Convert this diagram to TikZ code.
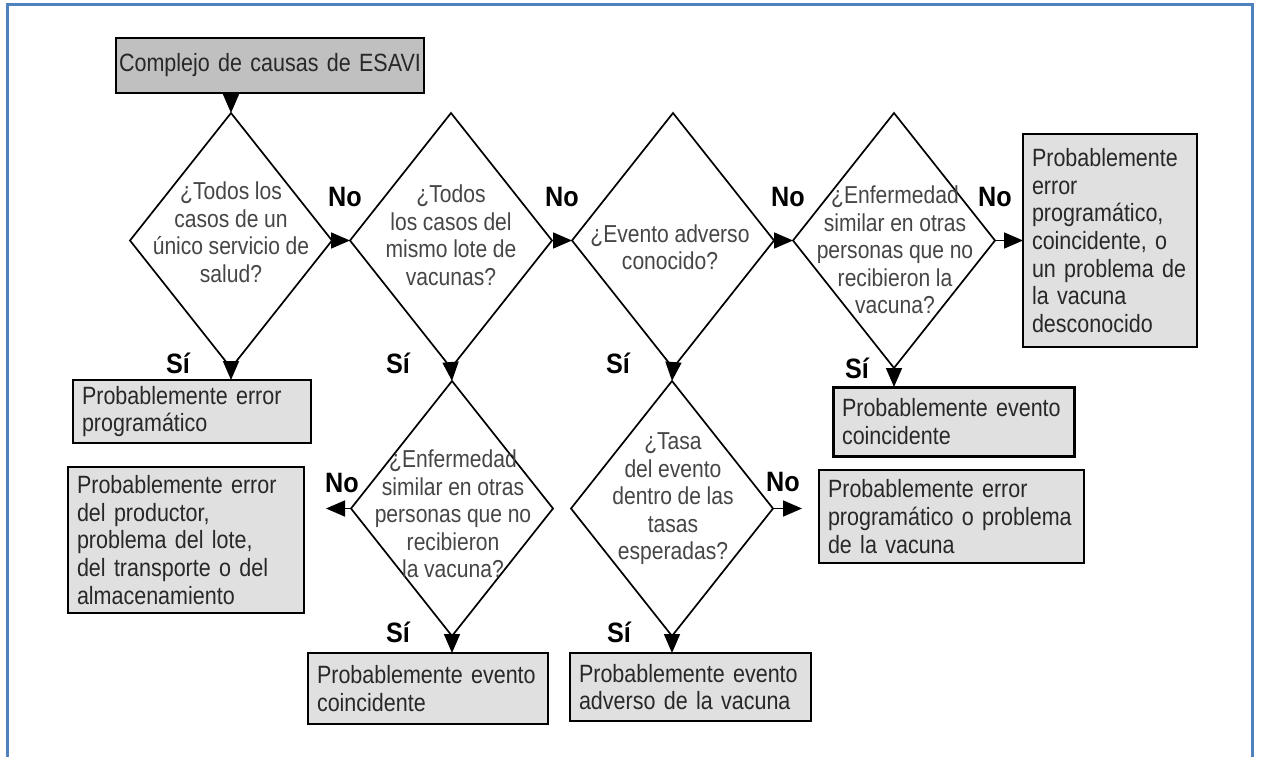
\documentclass[tikz,border=0pt]{standalone}
\usepackage{fontspec}
\setmainfont{Liberation Sans}[FakeStretch=0.86]
\newfontfamily\lblfont{Liberation Sans}[FakeStretch=0.9]
\usetikzlibrary{shapes.geometric,arrows.meta}
\definecolor{framec}{RGB}{79,129,189}
\definecolor{boxfill}{RGB}{224,224,224}
\definecolor{startfill}{RGB}{192,192,192}
\definecolor{boxtext}{RGB}{40,40,40}
\definecolor{dtextc}{RGB}{70,70,70}
\newcommand\myboxfont{\fontsize{25}{27.7}\selectfont\fontdimen2\font=5.8pt\relax}
\newcommand\mydiafont{\fontsize{24.5}{27.5}\selectfont\fontdimen2\font=5.6pt\relax}
\tikzset{bigtip/.tip={Triangle[width=16pt,length=19pt]}}
\begin{document}
\begin{tikzpicture}[x=1pt,y=-1pt,
  dia/.style={draw, shape=diamond, minimum width=202pt, minimum height=255pt, inner sep=0pt, outer sep=0pt, line width=1.7pt},
  dtext/.style={align=center, text=dtextc, font=\mydiafont, inner sep=0pt},
  box/.style={draw, fill=boxfill, line width=1.6pt, align=left, inner xsep=9pt, inner ysep=0pt, outer sep=0pt, font=\myboxfont, text=boxtext},
  lbl/.style={font=\lblfont\bfseries\fontsize{28}{28}\selectfont, inner sep=0pt},
  arr/.style={line width=1.7pt, -bigtip}
]
\useasboundingbox (0,0) rectangle (1261,757);
\clip (0,0) rectangle (1261,757);
\fill[white] (0,0) rectangle (1261,757);
\draw[framec, line width=3pt] (7,790) -- (7,5) -- (1252,5) -- (1252,790);

% start box
\node[box, fill=startfill, inner xsep=2pt, align=center, text width=304pt, minimum height=55pt] (b0) at (270,65.5) {Complejo de causas de ESAVI};

% diamonds
\node[dia] (d1) at (231,240.5) {};
\node[dia] (d2) at (451,240.5) {};
\node[dia] (d3) at (673,240.5) {};
\node[dia] (d4) at (894,240.5) {};
\node[dia] (d5) at (452,508.5) {};
\node[dia] (d6) at (672,508.5) {};

\node[dtext] (t1) at (231,232) {¿Todos los\\casos de un\\único servicio de\\salud?};
\node[dtext] (t2) at (451,235) {¿Todos\\los casos del\\mismo lote de\\vacunas?};
\node[dtext] (t3) at (670,247) {¿Evento adverso\\conocido?};
\node[dtext] (t4) at (895,250) {¿Enfermedad\\similar en otras\\personas que no\\recibieron la\\vacuna?};
\node[dtext] (t5) at (453,514) {¿Enfermedad\\similar en otras\\personas que no\\recibieron\\la vacuna?};
\node[dtext] (t6) at (673,499) {¿Tasa\\del evento\\dentro de las\\tasas\\esperadas?};

% result boxes
\node[box, text width=220pt, minimum height=63pt] (b1) at (192,411.5) {Probablemente error\\programático};
\node[box, text width=218pt, minimum height=146pt] (b2) at (186,540) {Probablemente error\\del productor,\\problema del lote,\\del transporte o del\\almacenamiento};
\node[box, text width=222pt, minimum height=71pt] (b3) at (428,688.5) {Probablemente evento\\coincidente};
\node[box, text width=223pt, minimum height=68pt] (b4) at (690.5,687) {Probablemente evento\\adverso de la vacuna};
\node[box, text width=247pt, minimum height=93pt] (b5) at (951.5,516.5) {Probablemente error\\programático o problema\\de la vacuna};
\node[box, line width=3pt, text width=223pt, minimum height=69pt] (b6) at (953.5,421.5) {Probablemente evento\\coincidente};
\node[box, text width=156pt, minimum height=213pt] (b7) at (1110,240.5) {Probablemente\\error\\programático,\\coincidente, o\\un problema de\\la vacuna\\desconocido};

% connectors
\draw[arr] (d1.north |- b0.south) -- (d1.north);
\draw[arr] (d1.east) -- (d2.west);
\draw[arr] (d2.east) -- (d3.west);
\draw[arr] (d3.east) -- (d4.west);
\draw[arr] (d4.east) -- (d4.east -| b7.west);
\draw[arr] (d1.south) -- (d1.south |- b1.north);
\draw[arr] (d2.south) -- (d5.north);
\draw[arr] (d3.south) -- (d6.north);
\draw[arr] (d4.south) -- (d4.south |- b6.north);
\draw[arr, shorten >=22pt] (d5.west) -- (d5.west -| b2.east);
\draw[arr] (d5.south) -- (d5.south |- b3.north);
\draw[arr, shorten >=17pt] (d6.east) -- (d6.east -| b5.west);
\draw[arr] (d6.south) -- (d6.south |- b4.north);

% labels
\node[lbl] (n1) at (345,197) {No};
\node[lbl] (n2) at (562,197) {No};
\node[lbl] (n3) at (788,197) {No};
\node[lbl] (n4) at (995,197) {No};
\node[lbl] (n5) at (342,483) {No};
\node[lbl] (n6) at (783,482) {No};
\node[lbl] (s1) at (178,363) {Sí};
\node[lbl] (s2) at (398,363) {Sí};
\node[lbl] (s3) at (618,363) {Sí};
\node[lbl] (s4) at (857,368) {Sí};
\node[lbl] (s5) at (398,632) {Sí};
\node[lbl] (s6) at (619,632) {Sí};
\end{tikzpicture}
\end{document}
